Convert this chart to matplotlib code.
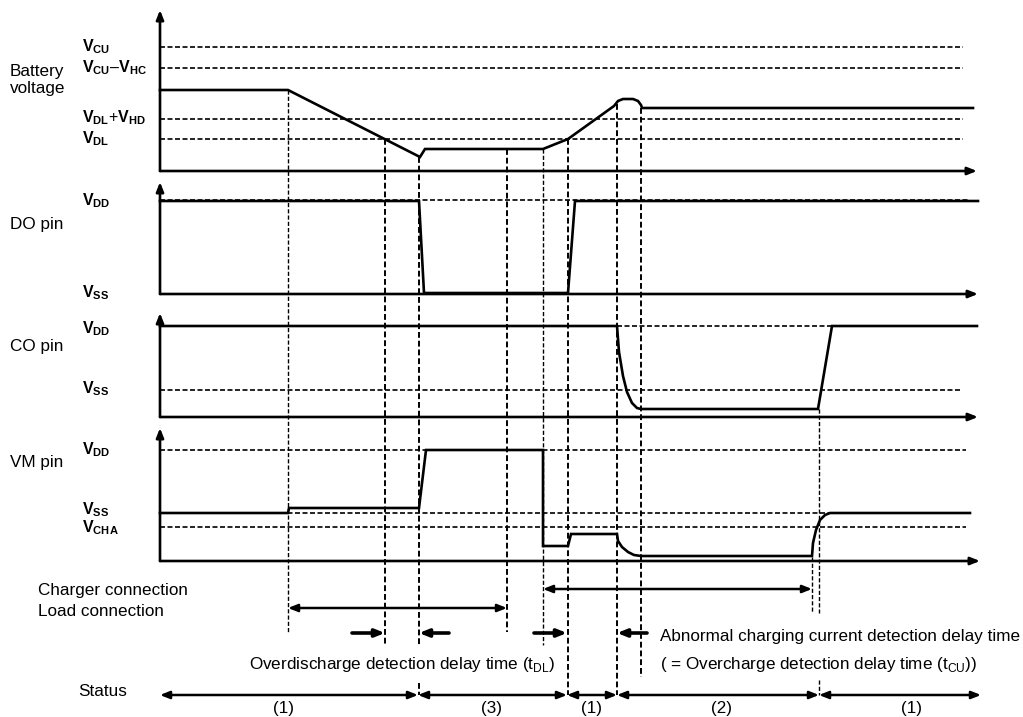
import matplotlib.pyplot as plt

plt.rcParams['font.family'] = ['Liberation Sans', 'DejaVu Sans']
plt.rcParams['mathtext.fontset'] = 'custom'
plt.rcParams['mathtext.rm'] = 'Liberation Sans'
plt.rcParams['mathtext.bf'] = 'Liberation Sans:bold'

# waveforms (x = time, y = level, picture units)
bat_x = [160, 288, 420, 425, 543, 568, 614, 618, 623, 633, 638, 641, 642, 973]
bat_y = [90, 90, 157, 149, 149, 139, 106, 101, 99, 99, 101, 105, 108, 108]

do_x = [160, 419, 424, 568, 575, 978]
do_y = [201, 201, 293, 293, 201, 201]

co_x = [160, 617, 619, 623, 627, 632, 637, 641, 818, 832, 977]
co_y = [326, 326, 352, 376, 392, 403, 408, 409, 409, 326, 326]

vm_x = [160, 288, 289, 419, 426, 543, 543, 568, 571, 617, 618, 622, 628, 634, 641,
        812, 813, 816, 820, 825, 830, 970]
vm_y = [513, 513, 508, 508, 450, 450, 546, 546, 534, 534, 541, 547, 552, 555, 556,
        556, 543, 530, 520, 515, 513, 513]

# panels: name, axis top, baseline, name y
panels = [
    ('Battery\nvoltage', 10, 171, 80),
    ('DO pin', 182, 294, 224),
    ('CO pin', 313, 417, 346),
    ('VM pin', 428, 561, 462),
]
axis_end = [977, 978, 978, 980]

# threshold levels (label, label y, line y, dashed from, dashed to)
levels = [
    (r'$\mathbf{V_{CU}}$', 47, 47, 160, 963),
    (r'$\mathbf{V_{CU}}$–$\mathbf{V_{HC}}$', 68, 68, 160, 963),
    (r'$\mathbf{V_{DL}}$+$\mathbf{V_{HD}}$', 118, 119, 160, 963),
    (r'$\mathbf{V_{DL}}$', 139, 139, 160, 963),
    (r'$\mathbf{V_{DD}}$', 201, 200, 160, 970),
    (r'$\mathbf{V_{SS}}$', 293, None, None, None),
    (r'$\mathbf{V_{DD}}$', 329, 326, 617, 832),
    (r'$\mathbf{V_{SS}}$', 389, 390, 160, 960),
    (r'$\mathbf{V_{DD}}$', 450, 450, 160, 966),
    (r'$\mathbf{V_{SS}}$', 510, 513, 160, 966),
    (r'$\mathbf{V_{CHA}}$', 528, 527, 160, 966),
]

# vertical timing markers: x, top, bottom, thin
markers = [
    (288, 90, 633, True),
    (385, 139, 645, False),
    (419, 157, 645, False),
    (507, 149, 632, False),
    (543, 149, 645, True),
    (568, 139, 695, False),
    (617, 104, 695, False),
    (641, 108, 677, False),
    (812, 557, 613, True),
    (819, 409, 613, True),
]

# delay arrows (tail, head) at one height
delay_arrows = [(352, 385), (449, 419), (534, 567), (647, 617)]

# status segments
status_edges = [160, 418, 567, 617, 819, 981]
status_labels = ['(1)', '(3)', '(1)', '(2)', '(1)']
status_text_x = [283, 492, 592, 722, 912]

fig = plt.figure(figsize=(10.23, 7.17), dpi=100)
ax = fig.add_axes([0, 0, 1, 1])
ax.set_xlim(0, 1023)
ax.set_ylim(717, 0)
ax.axis('off')

LW = 1.9
dash = dict(color='k', lw=1.2, dashes=(3.0, 1.5))


def arrow(x0, y0, x1, y1, style='-|>', lw=LW):
    ax.annotate('', xy=(x1, y1), xytext=(x0, y0),
                arrowprops=dict(arrowstyle=style + ',head_length=0.55,head_width=0.22',
                                lw=lw, color='k', shrinkA=0, shrinkB=0))


# axes of each panel
for (name, top, base, ty), xend in zip(panels, axis_end):
    arrow(160, base, 160, top)
    arrow(160, base, xend, base)
    ax.text(10, ty, name, fontsize=12.3, va='center', ha='left', linespacing=1.1)

# dashed levels and their labels
for lab, ty, y, x0, x1 in levels:
    if x0 is not None:
        ax.plot([x0, x1], [y, y], **dash)
    ax.text(82, ty, lab, fontsize=11.5, va='center', ha='left')

# vertical markers
for x, y0, y1, thin in markers:
    ax.plot([x, x], [y0, y1], color='k', lw=1.0 if thin else 1.4, dashes=(3.0, 1.5))
ax.plot([419, 419], [683, 695], color='k', lw=1.4, dashes=(3, 1.5))
ax.plot([819, 819], [680, 695], color='k', lw=1.0, dashes=(3, 1.5))

# waveforms
for xs, ys in [(bat_x, bat_y), (do_x, do_y), (co_x, co_y), (vm_x, vm_y)]:
    ax.plot(xs, ys, color='k', lw=LW, solid_joinstyle='miter')

# connection arrows
ax.text(38, 590, 'Charger connection', fontsize=12.3, va='center')
arrow(543, 589, 812, 589, style='<|-|>', lw=1.8)
ax.text(38, 612, 'Load connection', fontsize=12.3, va='center')
arrow(288, 608, 507, 608, style='<|-|>', lw=1.8)

for x0, x1 in delay_arrows:
    arrow(x0, 633, x1, 633, lw=2.6)

ax.text(402, 665, r'Overdischarge detection delay time (t$_{\mathrm{DL}}$)',
        fontsize=12.3, ha='center', va='center')
ax.text(660, 636, 'Abnormal charging current detection delay time',
        fontsize=12.3, ha='left', va='center')
ax.text(660, 664, r'( = Overcharge detection delay time (t$_{\mathrm{CU}}$))',
        fontsize=12.3, ha='left', va='center')

# status row
ax.text(78, 692, 'Status', fontsize=12.3, va='center')
for a, b in zip(status_edges[:-1], status_edges[1:]):
    arrow(a, 695, b, 695, style='<|-|>', lw=1.8)
for x, lab in zip(status_text_x, status_labels):
    ax.text(x, 708, lab, fontsize=12.3, ha='center', va='center')

fig.savefig('out.png', dpi=100)
